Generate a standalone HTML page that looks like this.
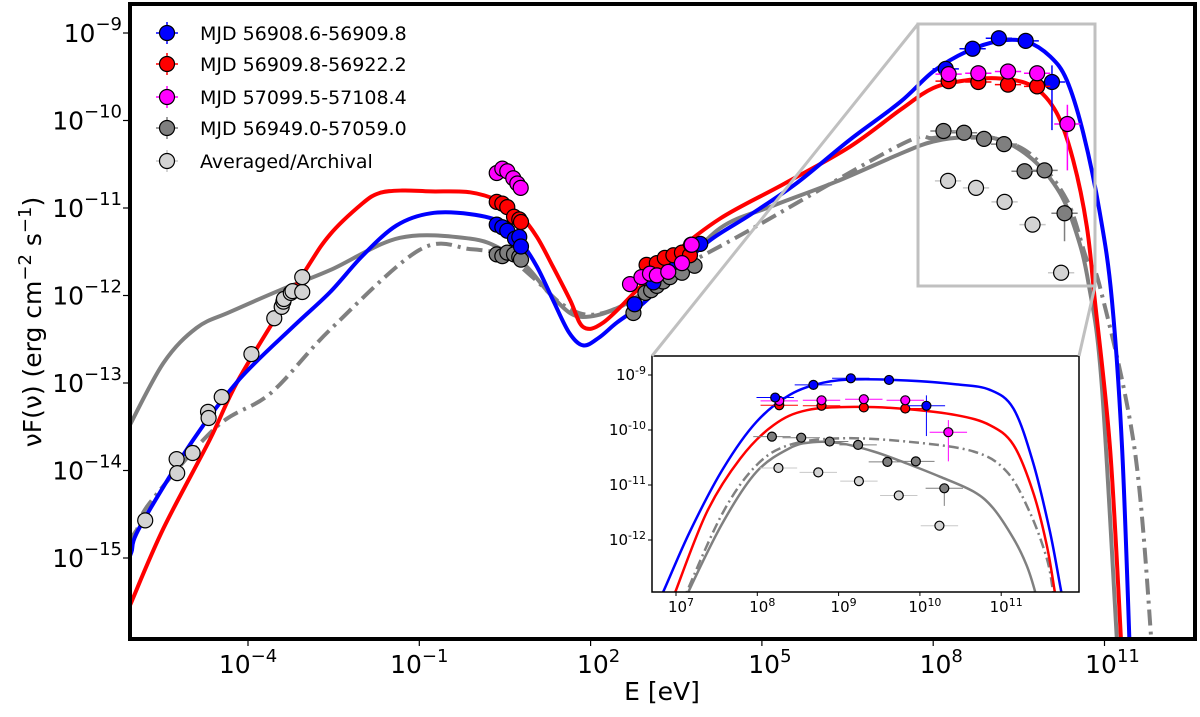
<!DOCTYPE html>
<html><head><meta charset="utf-8"><style>
html,body{margin:0;padding:0;background:#fff}
svg text{font-family:"DejaVu Sans","Liberation Sans",sans-serif}
</style></head><body>
<svg id="chart" width="1200" height="712" viewBox="0 0 1200 712" xmlns="http://www.w3.org/2000/svg">
<defs>
<clipPath id="mainClip"><rect x="130" y="4" width="1065" height="635"/></clipPath>
<clipPath id="inClip"><rect x="652" y="356" width="427" height="236"/></clipPath>
</defs>
<g id="mainG" clip-path="url(#mainClip)"></g>
<g id="insetG"></g>
<g id="axesG"></g>
<g id="legendG"></g>
</svg>
<script>
// ---- data (log10 E [eV], log10 nuFnu) ----
const blueE=[8.22,8.69,9.15,9.62,10.08, 2.77,3.10,3.45,3.92, 0.356,0.454,0.541,0.676,0.751,0.781];
const blueF=[-9.41,-9.18,-9.06,-9.09,-9.56, -12.10,-11.85,-11.62,-11.41, -11.19,-11.22,-11.26,-11.35,-11.33,-11.44];
const redE=[8.27,8.79,9.31,9.82, 2.98,3.16,3.30,3.45,3.60,3.74,3.76, 0.356,0.454,0.541,0.659,0.751,0.781];
const redF=[-9.55,-9.56,-9.59,-9.61, -11.65,-11.63,-11.57,-11.54,-11.51,-11.54,-11.42, -10.93,-10.95,-10.99,-11.10,-11.13,-11.16];
const magE=[8.27,8.79,9.31,9.82,10.35, 2.69,2.89,3.04,3.16,3.36,3.60,3.77, 0.356,0.454,0.541,0.646,0.717,0.776];
const magF=[-9.47,-9.46,-9.44,-9.46,-10.04, -11.87,-11.79,-11.75,-11.77,-11.73,-11.63,-11.42, -10.60,-10.55,-10.58,-10.66,-10.72,-10.77];
const grayE=[8.18,8.54,8.89,9.24,9.60,9.95,10.30, 2.75,2.96,3.06,3.16,3.27,3.39,3.60,3.82, 0.356,0.454,0.541,0.659,0.751,0.781];
const grayF=[-10.12,-10.14,-10.21,-10.27,-10.58,-10.57,-11.06, -12.20,-11.97,-11.94,-11.89,-11.84,-11.79,-11.74,-11.66, -11.53,-11.55,-11.51,-11.53,-11.56,-11.59];
const archE=[8.26,8.75,9.25,9.74,10.24, -5.80,-5.25,-5.24,-4.97,-4.70,-4.69,-4.46,-3.94,-3.54,-3.41,-3.38,-3.37,-3.25,-3.22,-3.05,-3.05];
const archF=[-10.69,-10.77,-10.93,-11.19,-11.74, -14.57,-13.87,-14.03,-13.80,-13.33,-13.40,-13.16,-12.67,-12.26,-12.13,-12.07,-12.04,-11.97,-11.95,-11.96,-11.79];
const gammaXerr=0.23;
const yErrs=[["blue",4,0.19,0.55],["mag",4,0.22,0.53],["gray",6,0.05,0.32]];

// main model curves
const cBlueE=[-6.1,-6.04,-5.89,-4.96,-4.14,-3.2,-2.56,-2.0,-1.4,-0.8,-0.11,0.47,0.76,1.06,1.34,1.62,1.87,2.15,2.46,2.92,3.5,4.09,4.79,5.6,6.54,7.42,8.0,8.59,9.17,9.64,10.05,10.34,10.63,10.92,11.13,11.31,11.45];
const cBlueF=[-15.03,-14.93,-14.64,-13.65,-12.95,-12.35,-11.96,-11.55,-11.2,-11.06,-11.07,-11.17,-11.37,-11.67,-12.05,-12.42,-12.57,-12.48,-12.31,-12.09,-11.72,-11.37,-11.08,-10.72,-10.22,-9.79,-9.44,-9.21,-9.09,-9.10,-9.27,-9.54,-10.15,-11.06,-12.05,-13.77,-16.2];
const cRedE=[-6.1,-6.04,-5.48,-4.67,-4.14,-3.03,-2.56,-2.0,-1.7,-1.3,-0.8,-0.11,0.4,0.76,1.06,1.34,1.64,1.87,2.22,2.81,3.39,4.27,5.4,6.54,7.42,8.0,8.59,9.17,9.75,10.16,10.45,10.69,10.83,11.10,11.31];
const cRedF=[-15.6,-15.50,-14.66,-13.65,-12.93,-11.75,-11.3,-10.95,-10.83,-10.80,-10.81,-10.82,-10.92,-11.08,-11.33,-11.67,-12.05,-12.36,-12.31,-11.94,-11.56,-11.12,-10.72,-10.30,-9.88,-9.63,-9.54,-9.52,-9.61,-9.91,-10.45,-11.21,-12.05,-13.77,-16.2];
const cGrayE=[-6.1,-5.48,-4.90,-4.32,-3.44,-2.56,-1.34,-0.11,0.47,0.88,1.23,1.64,1.99,2.51,3.39,4.27,5.17,6.3,7.42,8.0,8.59,9.17,9.75,10.22,10.51,10.72,10.95,11.24];
const cGrayF=[-13.52,-12.77,-12.37,-12.19,-11.94,-11.71,-11.34,-11.35,-11.48,-11.67,-11.94,-12.20,-12.24,-12.13,-11.79,-11.23,-10.98,-10.70,-10.38,-10.24,-10.19,-10.22,-10.45,-10.83,-11.29,-11.86,-13.0,-16.2];
const cDashE=[-6.1,-5.95,-5.72,-4.55,-3.61,-2.56,-1.0,-0.11,0.5,1.0,1.5,1.99,2.6,3.4,4.79,7.42,8.0,8.59,9.17,9.75,10.34,10.69,10.92,11.53,11.85];
const cDashF=[-14.8,-14.68,-14.37,-13.50,-13.12,-12.39,-11.48,-11.47,-11.55,-11.80,-12.10,-12.22,-12.10,-11.75,-11.25,-10.28,-10.20,-10.17,-10.22,-10.41,-10.91,-11.59,-11.90,-13.77,-16.2];
// inset model curves
const iBlueE=[6.75,6.84,7.17,7.58,7.99,8.40,8.81,9.22,9.84,10.45,10.86,11.15,11.39,11.60,11.74,11.78];
const iBlueF=[-13.2,-12.95,-11.85,-10.70,-9.85,-9.36,-9.14,-9.08,-9.10,-9.17,-9.27,-9.61,-10.58,-11.85,-12.95,-13.2];
const iRedE=[6.93,6.99,7.38,7.79,8.20,8.61,9.22,9.84,10.45,10.86,11.15,11.39,11.56,11.66,11.69];
const iRedF=[-13.2,-12.95,-11.49,-10.52,-9.91,-9.64,-9.58,-9.62,-9.73,-9.91,-10.27,-11.12,-12.09,-12.95,-13.2];
const iGrayE=[7.09,7.15,7.58,7.99,8.40,8.69,9.02,9.43,9.84,10.25,10.66,10.90,11.15,11.31,11.42,11.45];
const iGrayF=[-13.2,-12.95,-11.67,-10.76,-10.33,-10.22,-10.24,-10.39,-10.61,-10.85,-11.12,-11.42,-11.97,-12.45,-12.95,-13.2];
const iDashE=[7.07,7.13,7.58,7.99,8.40,9.02,9.84,10.66,11.07,11.35,11.56,11.64,11.67];
const iDashF=[-13.2,-12.95,-11.49,-10.64,-10.27,-10.15,-10.21,-10.39,-10.76,-11.49,-12.33,-12.95,-13.2];

const xTicksMain=[-4,-1,2,5,8,11];
const yTicksMain=[-9,-10,-11,-12,-13,-14,-15];
const xTicksIn=[7,8,9,10,11];
const yTicksIn=[-9,-10,-11,-12];
const legendLabels=["MJD 56908.6-56909.8","MJD 56909.8-56922.2","MJD 57099.5-57108.4","MJD 56949.0-57059.0","Averaged/Archival"];

// ---- axes functions ----
const xM=e=>248+(e+4)*57.1;
const yM=f=>33+(-9-f)*87.5;
const xI=e=>676+(e-7)*81.3;
const yI=f=>375+(-9-f)*55;

const NS="http://www.w3.org/2000/svg";
function mk(tag,parent,attrs){const el=document.createElementNS(NS,tag);for(const k in attrs)el.setAttribute(k,attrs[k]);parent.appendChild(el);return el;}
const mainG=document.getElementById('mainG'),insetG=document.getElementById('insetG'),axesG=document.getElementById('axesG'),legendG=document.getElementById('legendG');

function curve(parent,E,F,fx,fy,color,w,dash,name){
  const P=E.map((e,i)=>[fx(e),fy(F[i])]);
  let d='M'+P[0][0].toFixed(1)+','+P[0][1].toFixed(1);
  for(let i=0;i<P.length-1;i++){
    const p0=P[Math.max(0,i-1)],p1=P[i],p2=P[i+1],p3=P[Math.min(P.length-1,i+2)];
    const c1=[p1[0]+(p2[0]-p0[0])/6,p1[1]+(p2[1]-p0[1])/6];
    const c2=[p2[0]-(p3[0]-p1[0])/6,p2[1]-(p3[1]-p1[1])/6];
    d+=' C'+c1[0].toFixed(1)+','+c1[1].toFixed(1)+' '+c2[0].toFixed(1)+','+c2[1].toFixed(1)+' '+p2[0].toFixed(1)+','+p2[1].toFixed(1);
  }
  const p=mk('path',parent,{d:d,fill:'none',stroke:color,'stroke-width':w,'stroke-linejoin':'round'});
  if(dash)p.setAttribute('stroke-dasharray',dash);
  
  
}
const series={blue:[blueE,blueF,'#0000ff'],red:[redE,redF,'#ff0000'],mag:[magE,magF,'#ff00ff'],gray:[grayE,grayF,'#7f7f7f'],arch:[archE,archF,'#d3d3d3']};
const errColor={blue:'#0000ff',red:'#ff0000',mag:'#ff00ff',gray:'#7f7f7f',arch:'#c8c8c8'};
function points(parent,key,fx,fy,r,ew){
  const [E,F,col]=series[key];
  E.forEach((e,i)=>{
    const cx=fx(e),cy=fy(F[i]);
    if(e>7){
      const l=mk('line',parent,{x1:fx(e-gammaXerr),x2:fx(e+gammaXerr),y1:cy,y2:cy,stroke:errColor[key],'stroke-width':ew});
      
      
      let up=0.04,dn=0.04;
      yErrs.forEach(y=>{if(y[0]===key&&y[1]===i){up=y[2];dn=y[3];}});
      const v=mk('line',parent,{x1:cx,x2:cx,y1:fy(F[i]+up),y2:fy(F[i]-dn),stroke:errColor[key],'stroke-width':ew});
      
      
    }
    const c=mk('circle',parent,{cx:cx,cy:cy,r:r,fill:col,stroke:'#000','stroke-width':1.2});
    
    
  });
}

curve(mainG,cGrayE,cGrayF,xM,yM,'#808080',4,null,'model-gray-solid');
curve(mainG,cDashE,cDashF,xM,yM,'#808080',4,'16,6,3,6','model-gray-dashdot');
curve(mainG,cRedE,cRedF,xM,yM,'#ff0000',4,null,'model-red');
curve(mainG,cBlueE,cBlueF,xM,yM,'#0000ff',4,null,'model-blue');
['arch','gray','blue','red','mag'].forEach(k=>points(mainG,k,xM,yM,7.5,1.5));

[['rect',{x:918,y:24,width:177,height:262}],['line',{x1:918,y1:24,x2:652,y2:356}],['line',{x1:1095,y1:286,x2:1079,y2:356}]].forEach((t,i)=>{
  const a=t[1];a.fill='none';a.stroke='#c0c0c0';a['stroke-width']=3;
  const el=mk(t[0],axesG,a);
  
  
});

const ibg=mk('rect',insetG,{x:652,y:356,width:427,height:236,fill:'#fff'});


const inC=mk('g',insetG,{'clip-path':'url(#inClip)'});


curve(inC,iGrayE,iGrayF,xI,yI,'#808080',2.5,null,'inset-model-gray-solid');
curve(inC,iDashE,iDashF,xI,yI,'#808080',2.5,'10,4,2,4','inset-model-gray-dashdot');
curve(inC,iRedE,iRedF,xI,yI,'#ff0000',2.5,null,'inset-model-red');
curve(inC,iBlueE,iBlueF,xI,yI,'#0000ff',2.5,null,'inset-model-blue');
['arch','gray','red','mag','blue'].forEach(k=>points(inC,k,e=>e>7?xI(e):-100,yI,4.5,1));
const ifr=mk('rect',insetG,{x:652,y:356,width:427,height:236,fill:'none',stroke:'#000','stroke-width':1.5});


xTicksIn.forEach(t=>{
  const x=xI(t);
  const tk=mk('line',insetG,{x1:x,x2:x,y1:592,y2:596,stroke:'#000','stroke-width':1});
  
  
  const tx=mk('text',insetG,{x:x+5,y:612,'font-size':15,'text-anchor':'middle'});
  tx.innerHTML='10<tspan dy="-6" font-size="11">'+t+'</tspan>';
  
  
});
yTicksIn.forEach(t=>{
  const y=yI(t);
  const tk=mk('line',insetG,{x1:648,x2:652,y1:y,y2:y,stroke:'#000','stroke-width':1});
  
  
  const tx=mk('text',insetG,{x:646,y:y+5,'font-size':15,'text-anchor':'end'});
  tx.innerHTML='10<tspan dy="-6" font-size="11">'+t+'</tspan>';
  
  
});

const fr=mk('rect',axesG,{x:130,y:4,width:1065,height:635,fill:'none',stroke:'#000','stroke-width':4});


xTicksMain.forEach(t=>{
  const x=xM(t);
  const tk=mk('line',axesG,{x1:x,x2:x,y1:641,y2:646,stroke:'#000','stroke-width':1.2});
  
  
  const tx=mk('text',axesG,{x:x+(t<0?0:8),y:673,'font-size':25,'text-anchor':'middle'});
  tx.innerHTML='10<tspan dy="-11" font-size="18">'+(t<0?'\u2212'+(-t):t)+'</tspan>';
  
  
});
yTicksMain.forEach(t=>{
  const y=yM(t);
  const tk=mk('line',axesG,{x1:123,x2:128,y1:y,y2:y,stroke:'#000','stroke-width':1.2});
  
  
  const tx=mk('text',axesG,{x:122,y:y+9,'font-size':25,'text-anchor':'end'});
  tx.innerHTML='10<tspan dy="-12" font-size="18">\u2212'+(-t)+'</tspan>';
  
  
});
const xl=mk('text',axesG,{x:662,y:700,'font-size':25,'text-anchor':'middle'});
xl.textContent='E [eV]';


const yl=mk('text',axesG,{x:0,y:0,'font-size':25,'text-anchor':'middle',transform:'translate(41,322) rotate(-90)'});
yl.innerHTML='\u03BDF(\u03BD) (erg cm<tspan dy="-10" font-size="18">\u22122</tspan><tspan dy="10"> s</tspan><tspan dy="-10" font-size="18">\u22121</tspan><tspan dy="10">)</tspan>';



const legKeys=['blue','red','mag','gray','arch'];
const legY=[33,64,97,128,161];
legKeys.forEach((k,i)=>{
  const y=legY[i],col=series[k][2],ec=errColor[k];
  const g=mk('g',legendG,{});
  
  
  mk('line',g,{x1:156,x2:178,y1:y,y2:y,stroke:ec,'stroke-width':1.5});
  mk('line',g,{x1:167,x2:167,y1:y-11,y2:y+11,stroke:ec,'stroke-width':1.5});
  mk('circle',g,{cx:167,cy:y,r:7.5,fill:col,stroke:'#000','stroke-width':1.2});
  const t=mk('text',g,{x:200,y:y+7,'font-size':19});
  t.textContent=legendLabels[i];
});
</script>
</body></html>
